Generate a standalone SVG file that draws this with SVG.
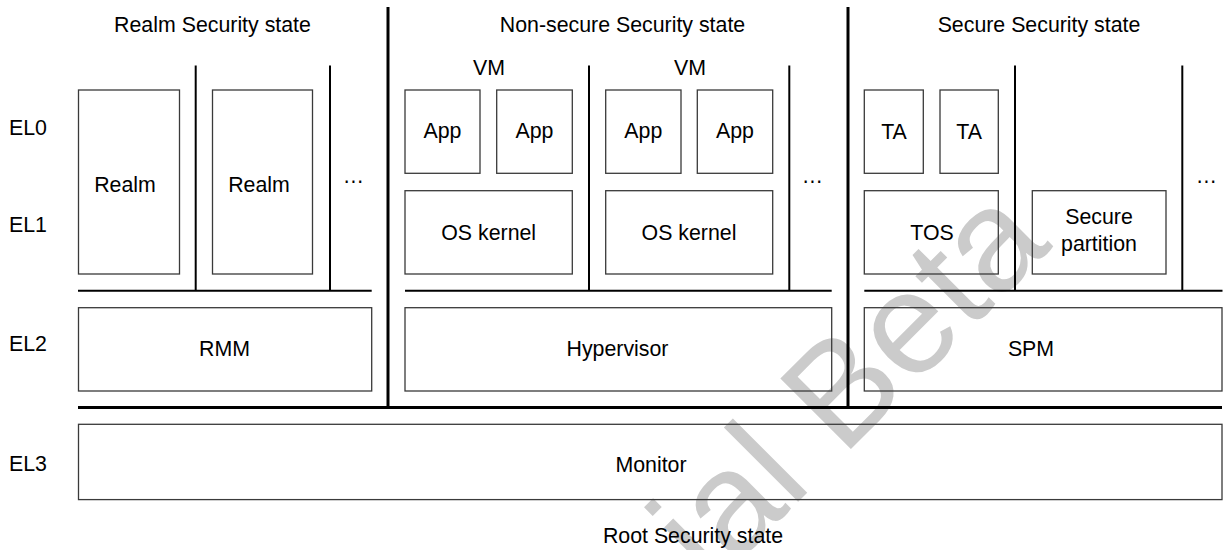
<svg xmlns="http://www.w3.org/2000/svg" width="1229" height="550" viewBox="0 0 1229 550">
<style>
  text { font-family: "Liberation Sans", Arial, sans-serif; font-size: 21.33px; fill: #000; }
  .c { text-anchor: middle; }
  .box { fill: none; stroke: #3a3a3a; stroke-width: 1.3; }
  .div { stroke: #000; stroke-width: 2; fill: none; }
  .thick { stroke: #000; stroke-width: 3; fill: none; }
  .wm { font-size: 145px; fill: #cbcbcb; }
</style>
<rect x="0" y="0" width="1229" height="550" fill="#fff"/>
<g id="watermark">
  <text class="wm" x="711.5" y="588.5" transform="rotate(-45 711.5 588.5)">ial Beta</text>
</g>
<g id="labels">
  <text class="c" x="212.5" y="32">Realm Security state</text>
  <text class="c" x="622.5" y="32">Non-secure Security state</text>
  <text class="c" x="1039" y="32">Secure Security state</text>
  <text class="c" x="489" y="75">VM</text>
  <text class="c" x="690" y="75">VM</text>
  <text x="9" y="135">EL0</text>
  <text x="9" y="232">EL1</text>
  <text x="9" y="350.5">EL2</text>
  <text x="9" y="470.5">EL3</text>
  <text class="c" x="353.5" y="182.5">…</text>
  <text class="c" x="812.5" y="182.5">…</text>
  <text class="c" x="1206.5" y="182.5">…</text>
  <text class="c" x="693" y="543">Root Security state</text>
</g>
<g id="connectors">
  <line class="thick" x1="388" y1="7" x2="388" y2="407.5"/>
  <line class="thick" x1="848" y1="7" x2="848" y2="407.5"/>
  <line class="thick" x1="78" y1="407.5" x2="1222" y2="407.5"/>
  <line class="div" x1="78" y1="290.7" x2="371.7" y2="290.7"/>
  <line class="div" x1="405" y1="290.7" x2="831.7" y2="290.7"/>
  <line class="div" x1="864.3" y1="290.7" x2="1222.5" y2="290.7"/>
  <line class="div" x1="195.7" y1="65.5" x2="195.7" y2="290.7"/>
  <line class="div" x1="330" y1="65.5" x2="330" y2="290.7"/>
  <line class="div" x1="589" y1="65.5" x2="589" y2="290.7"/>
  <line class="div" x1="789.3" y1="65.5" x2="789.3" y2="290.7"/>
  <line class="div" x1="1015" y1="65.5" x2="1015" y2="290.7"/>
  <line class="div" x1="1182.3" y1="65.5" x2="1182.3" y2="290.7"/>
</g>
<g id="realm1"><rect class="box" x="78.5" y="90" width="101" height="184"/><text class="c" x="125" y="191.7">Realm</text></g>
<g id="realm2"><rect class="box" x="212.5" y="90" width="100" height="184"/><text class="c" x="259" y="191.7">Realm</text></g>
<g id="app1"><rect class="box" x="405" y="90" width="75" height="83.3"/><text class="c" x="442.5" y="138.3">App</text></g>
<g id="app2"><rect class="box" x="496.7" y="90" width="75.6" height="83.3"/><text class="c" x="534.5" y="138.3">App</text></g>
<g id="app3"><rect class="box" x="605.7" y="90" width="75.3" height="83.3"/><text class="c" x="643.3" y="138.3">App</text></g>
<g id="app4"><rect class="box" x="697.3" y="90" width="75.4" height="83.3"/><text class="c" x="735" y="138.3">App</text></g>
<g id="oskernel1"><rect class="box" x="405" y="190.7" width="167.3" height="83.3"/><text class="c" x="488.7" y="240">OS kernel</text></g>
<g id="oskernel2"><rect class="box" x="605.7" y="190.7" width="167" height="83.3"/><text class="c" x="689" y="240">OS kernel</text></g>
<g id="ta1"><rect class="box" x="864.3" y="90" width="59" height="83.3"/><text class="c" x="894" y="139">TA</text></g>
<g id="ta2"><rect class="box" x="940" y="90" width="58.3" height="83.3"/><text class="c" x="969.2" y="139">TA</text></g>
<g id="tos"><rect class="box" x="864.3" y="190.7" width="134" height="83.3"/><text class="c" x="932" y="240">TOS</text></g>
<g id="securepartition"><rect class="box" x="1032.3" y="190.7" width="133.7" height="83.3"/><text class="c" x="1099" y="224">Secure</text><text class="c" x="1099" y="250.7">partition</text></g>
<g id="rmm"><rect class="box" x="78.5" y="307.7" width="293.2" height="83.3"/><text class="c" x="224.5" y="355.5">RMM</text></g>
<g id="hypervisor"><rect class="box" x="405" y="307.7" width="426.7" height="83.3"/><text class="c" x="617.5" y="355.5">Hypervisor</text></g>
<g id="spm"><rect class="box" x="864.3" y="307.7" width="357.7" height="83.3"/><text class="c" x="1031" y="355.5">SPM</text></g>
<g id="monitor"><rect class="box" x="78.5" y="424.3" width="1143.5" height="75.3"/><text class="c" x="651" y="471.7">Monitor</text></g>
</svg>
